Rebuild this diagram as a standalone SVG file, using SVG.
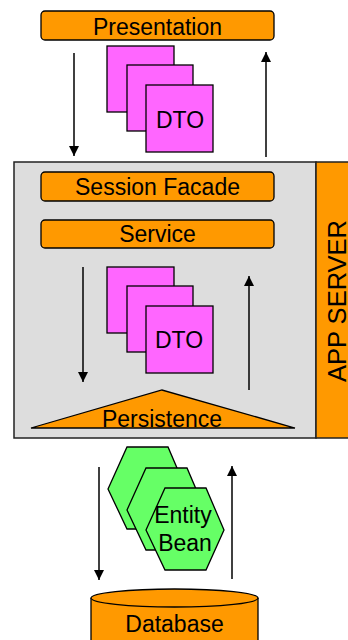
<svg xmlns="http://www.w3.org/2000/svg" width="348" height="640" viewBox="0 0 348 640">
  <style>
    .bar { fill: #FF9900; stroke: #000; stroke-width: 1.3; }
    .dto { fill: #FF66FF; stroke: #000; stroke-width: 1.3; }
    .bean { fill: #66FF66; stroke: #000; stroke-width: 1.3; }
    .lbl { font-family: "Liberation Sans", Arial, sans-serif; font-size: 23px; fill: #000; text-anchor: middle; }
    .flow { stroke: #000; stroke-width: 1.5; fill: none; marker-end: url(#head); }
  </style>
  <defs>
    <marker id="head" markerUnits="userSpaceOnUse" markerWidth="10" markerHeight="12" refX="10" refY="5" orient="auto">
      <path d="M0,0 L10,5 L0,10 Z" fill="#000"/>
    </marker>
    <g id="dtoStack">
      <rect class="dto" x="0" y="0" width="67" height="66"/>
      <rect class="dto" x="20" y="19" width="66" height="66"/>
      <rect class="dto" x="39" y="39" width="67" height="67"/>
    </g>
    <polygon id="hex" points="0,42 19,0 60,0 78,42 60,82 19,82"/>
  </defs>

  <!-- application server container -->
  <g id="app-server">
    <rect x="14" y="162" width="302" height="276" fill="#DDDDDD" stroke="#222" stroke-width="1.5"/>
    <rect x="316" y="162" width="40" height="276" fill="#FF9900" stroke="#222" stroke-width="1.5"/>
    <text class="lbl" style="font-size:25.5px" transform="translate(345.5,301) rotate(-90)">APP SERVER</text>
  </g>

  <g id="presentation">
    <rect class="bar" x="41" y="11" width="233" height="29" rx="4"/>
    <text class="lbl" x="157.5" y="35">Presentation</text>
  </g>

  <g id="dto-top">
    <use href="#dtoStack" x="107" y="46"/>
    <text class="lbl" x="180" y="128">DTO</text>
  </g>

  <g id="session-facade">
    <rect class="bar" x="41" y="172" width="233" height="29" rx="4"/>
    <text class="lbl" x="157.5" y="195">Session Facade</text>
  </g>

  <g id="service">
    <rect class="bar" x="41" y="220" width="233" height="28" rx="4"/>
    <text class="lbl" x="157.5" y="242">Service</text>
  </g>

  <g id="dto-middle">
    <use href="#dtoStack" x="107" y="267"/>
    <text class="lbl" x="179" y="348">DTO</text>
  </g>

  <g id="persistence">
    <polygon class="bar" points="31,428 162,390 295,428"/>
    <text class="lbl" x="162" y="427">Persistence</text>
  </g>

  <g id="entity-bean">
    <use href="#hex" class="bean" x="108" y="447"/>
    <use href="#hex" class="bean" x="127" y="468"/>
    <use href="#hex" class="bean" x="146" y="488"/>
    <text class="lbl" x="183" y="523">Entity</text>
    <text class="lbl" x="185" y="551">Bean</text>
  </g>

  <g id="database">
    <path class="bar" d="M91,598 L91,660 L258,660 L258,598"/>
    <ellipse class="bar" cx="174.5" cy="598" rx="83.5" ry="9"/>
    <text class="lbl" x="174.5" y="632">Database</text>
  </g>

  <!-- request/response flow arrows -->
  <g id="connectors">
    <line class="flow" x1="74" y1="53" x2="74" y2="156"/>
    <line class="flow" x1="266" y1="157" x2="266" y2="52"/>
    <line class="flow" x1="83" y1="267" x2="83" y2="382"/>
    <line class="flow" x1="249" y1="390" x2="249" y2="276"/>
    <line class="flow" x1="99" y1="467" x2="99" y2="580"/>
    <line class="flow" x1="232" y1="579" x2="232" y2="466"/>
  </g>
</svg>
